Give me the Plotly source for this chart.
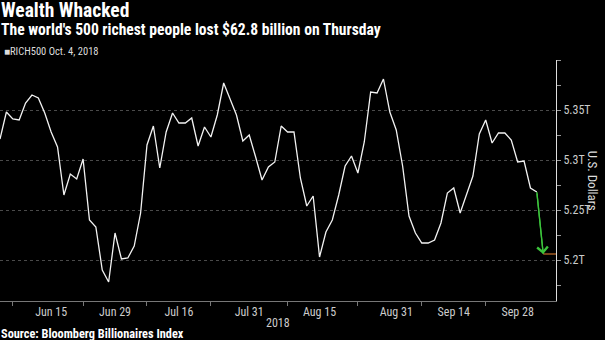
import pandas as pd
import plotly.graph_objects as go

# ---- data ----
holidays = ["2018-07-04", "2018-09-03"]
dates = [d for d in pd.bdate_range("2018-06-05", "2018-10-04").strftime("%Y-%m-%d") if d not in holidays]
values = [
    5.321, 5.348, 5.341, 5.340, 5.357, 5.365, 5.362, 5.347, 5.328, 5.313,
    5.265, 5.286, 5.281, 5.301, 5.240, 5.233, 5.190, 5.178, 5.227, 5.201,
    5.202, 5.214, 5.247, 5.315, 5.334, 5.292, 5.328, 5.347, 5.337, 5.337,
    5.342, 5.314, 5.333, 5.323, 5.345, 5.377, 5.361, 5.345, 5.319, 5.325,
    5.303, 5.280, 5.293, 5.298, 5.334, 5.328, 5.328, 5.282, 5.254, 5.264,
    5.203, 5.228, 5.240, 5.265, 5.294, 5.304, 5.287, 5.318, 5.368, 5.367,
    5.381, 5.348, 5.330, 5.294, 5.244, 5.227, 5.217, 5.217, 5.220, 5.237,
    5.267, 5.272, 5.247, 5.265, 5.284, 5.326, 5.340, 5.317, 5.327, 5.327,
    5.320, 5.298, 5.299, 5.272, 5.268, 5.206,
]
x_tick_dates = ["2018-06-15", "2018-06-29", "2018-07-16", "2018-07-31",
                "2018-08-15", "2018-08-31", "2018-09-14", "2018-09-28"]
x_tick_text = ["Jun 15", "Jun 29", "Jul 16", "Jul 31", "Aug 15", "Aug 31", "Sep 14", "Sep 28"]
x_minor_dates = ["2018-06-07", "2018-06-22", "2018-07-09", "2018-07-23",
                 "2018-08-08", "2018-08-23", "2018-09-07", "2018-09-21"]
y_tick_vals = [5.2, 5.25, 5.3, 5.35, 5.4]
y_tick_text = ["5.2T", "5.25T", "5.3T", "5.35T", ""]
y_minor_vals = [5.175, 5.225, 5.275, 5.325, 5.375]
x_range = ["2018-06-05", "2018-10-08"]
y_range = [5.159, 5.4]

title = "Wealth Whacked"
subtitle = "The world's 500 richest people lost $62.8 billion on Thursday"
legend_text = "RICH500 Oct. 4, 2018"
source = "Source: Bloomberg Billionaires Index"

FONT = "Liberation Sans Narrow, Roboto Condensed, Arial Narrow, Liberation Sans, sans-serif"

fig = go.Figure()
fig.add_trace(go.Scatter(x=dates[:-1], y=values[:-1], mode="lines",
                         line=dict(color="#f2f2f2", width=1.3), showlegend=False,
                         hoverinfo="skip"))
fig.add_trace(go.Scatter(x=dates[-2:], y=values[-2:], mode="lines",
                         line=dict(color="#3cc43c", width=1.3), showlegend=False,
                         hoverinfo="skip"))
# arrow head at last point
fig.add_annotation(x=dates[-1], y=values[-1], ax=dates[-2], ay=values[-2],
                   xref="x", yref="y", axref="x", ayref="y", text="",
                   showarrow=True, arrowhead=4, arrowsize=1.6, arrowwidth=1.3,
                   arrowcolor="#3cc43c", standoff=0, startstandoff=0)
# last-value marker
fig.add_shape(type="line", xref="x", yref="y", x0=dates[-1], x1=x_range[1],
              y0=values[-1], y1=values[-1], line=dict(color="#c8702a", width=1.2))

ann_font = dict(family=FONT, color="white")
fig.add_annotation(text="<b>" + title + "</b>", xref="paper", yref="paper", x=0, y=1.205,
                   xanchor="left", yanchor="middle", showarrow=False,
                   font=dict(ann_font, size=19.5), xshift=-1)
fig.add_annotation(text="<b>" + subtitle + "</b>", xref="paper", yref="paper", x=0, y=1.124,
                   xanchor="left", yanchor="middle", showarrow=False,
                   font=dict(ann_font, size=15.6), xshift=-1)
fig.add_annotation(text="<span style='font-size:10px'>■</span>" + legend_text, xref="paper", yref="paper",
                   x=0, y=1.037, xanchor="left", yanchor="middle", showarrow=False,
                   font=dict(family=FONT, color="#dddddd", size=10.5), xshift=2)
fig.add_annotation(text="<b>" + source + "</b>", xref="paper", yref="paper", x=0, y=-0.137,
                   xanchor="left", yanchor="middle", showarrow=False,
                   font=dict(ann_font, size=12.3), xshift=-1)
fig.add_annotation(text="2018", xref="paper", yref="paper", x=0.5, y=-0.091,
                   xanchor="center", yanchor="middle", showarrow=False,
                   font=dict(family=FONT, color="#cccccc", size=12))
fig.add_annotation(text="U.S. Dollars", xref="paper", yref="paper", x=1.066, y=0.5,
                   xanchor="center", yanchor="middle", showarrow=False, textangle=90,
                   font=dict(family=FONT, color="#dddddd", size=13))

fig.update_layout(
    width=605, height=340,
    margin=dict(l=0, r=49, t=60, b=39),
    paper_bgcolor="black", plot_bgcolor="black",
    font=dict(family=FONT, color="#cccccc", size=12),
    showlegend=False,
    xaxis=dict(
        type="date", range=x_range,
        rangebreaks=[dict(bounds=["sat", "mon"]), dict(values=holidays)],
        tickmode="array", tickvals=x_tick_dates, ticktext=x_tick_text,
        ticks="", showgrid=False, zeroline=False,
        showline=True, linecolor="#777777", linewidth=1,
        tickfont=dict(size=12, color="#cccccc"),
        minor=dict(tickmode="array", tickvals=x_minor_dates, ticks="outside",
                   ticklen=4, tickcolor="#777777", showgrid=False),
    ),
    yaxis=dict(
        side="right", range=y_range,
        tickmode="array", tickvals=y_tick_vals, ticktext=y_tick_text,
        ticks="outside", ticklen=4, tickcolor="#999999",
        showgrid=True, gridcolor="#4a4a4a", griddash="dot", gridwidth=1,
        zeroline=False, showline=True, linecolor="#dddddd", linewidth=1,
        tickfont=dict(size=12, color="#cccccc"),
        minor=dict(tickmode="array", tickvals=y_minor_vals, ticks="outside",
                   ticklen=4, tickcolor="#999999", showgrid=False),
    ),
)

fig.write_html("out.html")
